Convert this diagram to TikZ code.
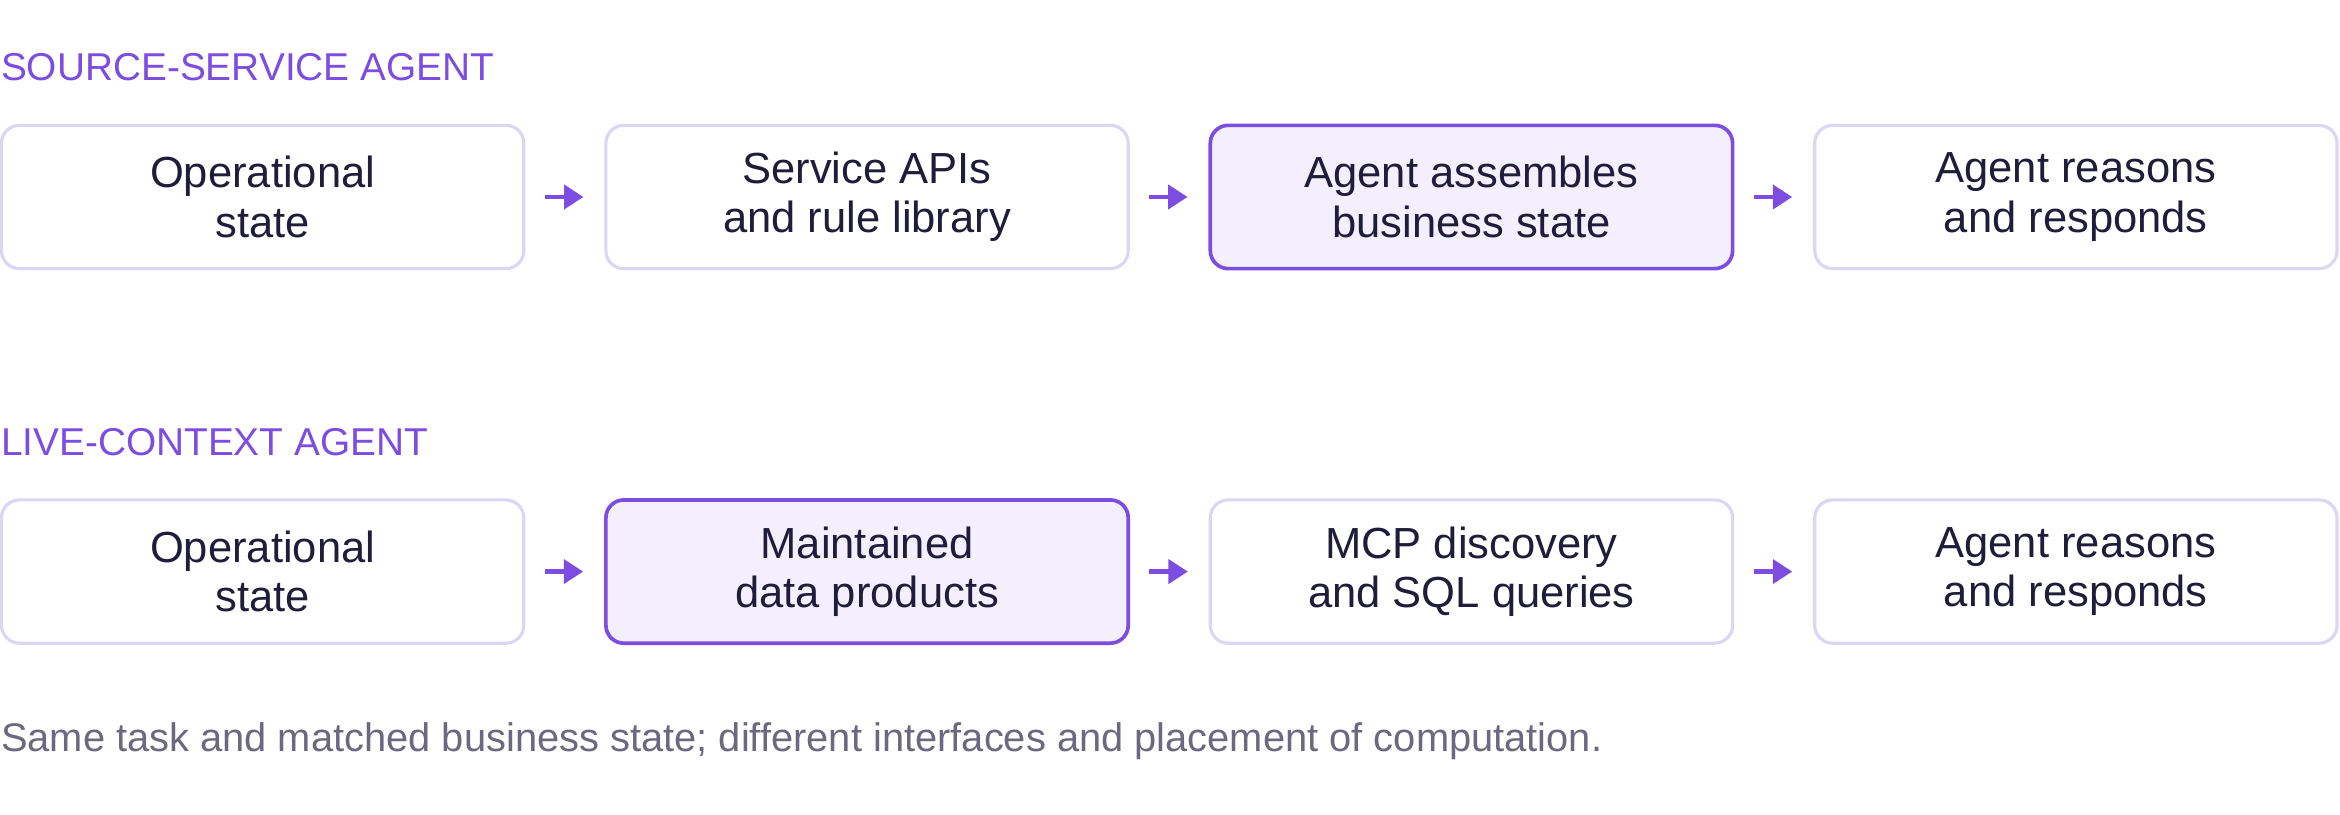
\documentclass[tikz,border=0pt]{standalone}
\usepackage{fontspec}
\setmainfont{Liberation Sans}
\usetikzlibrary{arrows.meta, positioning}
\definecolor{agentpurple}{HTML}{7C4DE0}
\definecolor{boxline}{HTML}{DCD5F3}
\definecolor{boxfill}{HTML}{F4EFFC}
\definecolor{textdark}{HTML}{1F1D3A}
\definecolor{notegray}{HTML}{6B6880}

\begin{document}
\begin{tikzpicture}
	[%
	stage/.style    ={rectangle, rounded corners=0.12cm, draw=boxline, line width=0.6pt, fill=white,	minimum width=3.5cm, minimum height=0.96cm, inner sep=0pt, align=center, text=textdark, font=\fontsize{8.3pt}{9.4pt}\selectfont},%
	focus/.style    ={stage, draw=agentpurple, fill=boxfill, line width=0.7pt},%
	rowlabel/.style ={anchor=west, inner sep=0pt, text=agentpurple, font=\fontsize{7.4pt}{8pt}\selectfont},%
	flow/.style     ={draw=agentpurple, line width=0.85pt, -{Triangle[length=1.3mm, width=1.6mm]}, shorten <=1.3mm, shorten >=1.4mm},%
	]

	\useasboundingbox (0,0) rectangle (15.68,5.46);

	% row labels
	\node (labsrc)  at (0,5.01) [rowlabel] {SOURCE-SERVICE AGENT};
	\node (lablive) at (0,2.50) [rowlabel] {LIVE-CONTEXT AGENT};

	% source-service row
	\node (src1) at (1.76,4.14)  [stage] {Operational\\state};
	\node (src2) at (5.81,4.14)  [stage] {Service APIs\\and rule library};
	\node (src3) at (9.86,4.14)  [focus] {Agent assembles\\business state};
	\node (src4) at (13.91,4.14) [stage] {Agent reasons\\and responds};

	% live-context row
	\node (live1) at (1.76,1.63)  [stage] {Operational\\state};
	\node (live2) at (5.81,1.63)  [focus] {Maintained\\data products};
	\node (live3) at (9.86,1.63)  [stage] {MCP discovery\\and SQL queries};
	\node (live4) at (13.91,1.63) [stage] {Agent reasons\\and responds};

	% connectors
	\foreach \i/\o in {1/2, 2/3, 3/4} {
		\draw [flow] (src\i) -- (src\o);
		\draw [flow] (live\i) -- (live\o);
	}

	% note
	\node (note) at (0,0.49) [anchor=west, inner sep=0pt, text=notegray, font=\fontsize{7.6pt}{9pt}\selectfont] {Same task and matched business state; different interfaces and placement of computation.};

\end{tikzpicture}
\end{document}
